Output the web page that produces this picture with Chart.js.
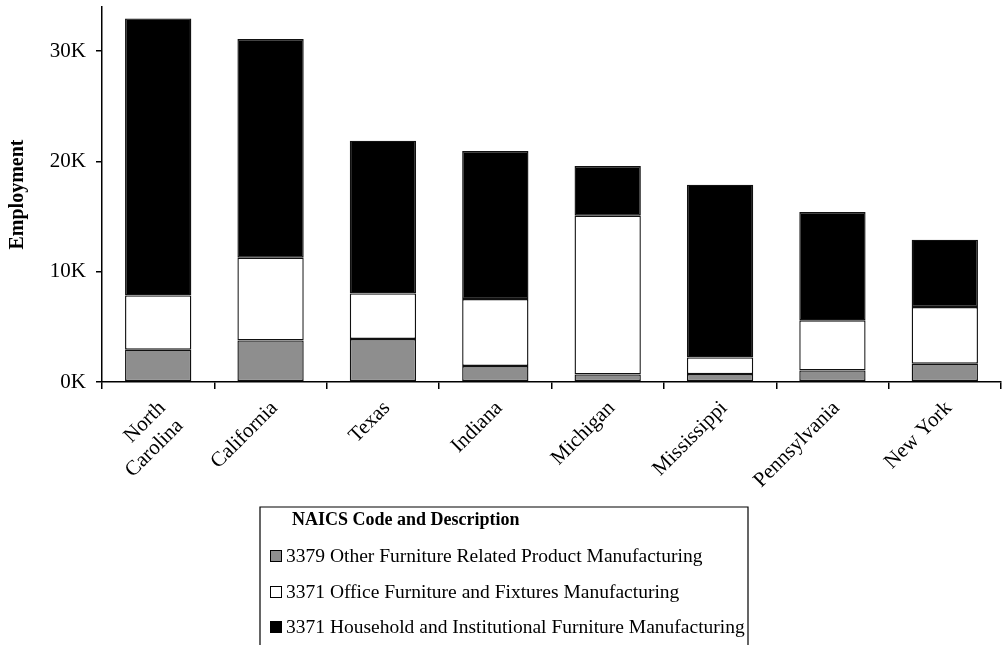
<!DOCTYPE html>
<html>
<head>
<meta charset="utf-8">
<script src="https://cdn.jsdelivr.net/npm/chart.js@4.4.1/dist/chart.umd.min.js"></script>
<style>
  html, body { margin: 0; padding: 0; background: #fff; }
  #wrap { position: relative; width: 1005px; height: 645px; }
</style>
</head>
<body>
<div id="wrap"><canvas id="c" width="1005" height="645"></canvas></div>
<script>
const states = [["North", "Carolina"], "California", "Texas", "Indiana", "Michigan", "Mississippi", "Pennsylvania", "New York"];
const otherFurniture = [2930, 3770, 3900, 1450, 690, 720, 1050, 1660];
const officeFurniture = [4920, 7500, 4130, 6070, 14390, 1510, 4540, 5140];
const householdFurniture = [25110, 19830, 13850, 13420, 4500, 15660, 9820, 6100];
const seriesNames = [
  "3379 Other Furniture Related Product Manufacturing",
  "3371 Office Furniture and Fixtures Manufacturing",
  "3371 Household and Institutional Furniture Manufacturing"
];
const legendTitle = "NAICS Code and Description";
const yTickValues = [0, 10000, 20000, 30000];
const yMax = 34000;

const FONT = "'Liberation Serif', 'Times New Roman', serif";

const boxLegend = {
  id: 'boxLegend',
  afterDraw(chart) {
    const ctx = chart.ctx;
    const L = 260, R = 748, T = 507;
    ctx.save();
    ctx.strokeStyle = '#000';
    ctx.lineWidth = 1.2;
    ctx.beginPath();
    ctx.moveTo(L, 660); ctx.lineTo(L, T); ctx.lineTo(R, T); ctx.lineTo(R, 660);
    ctx.stroke();
    ctx.fillStyle = '#000';
    ctx.textBaseline = 'middle';
    ctx.textAlign = 'left';
    ctx.font = "bold 18px " + FONT;
    ctx.fillText(legendTitle, 292, 520);
    ctx.font = "19.5px " + FONT;
    const ys = [556, 592, 627];
    chart.data.datasets.forEach((ds, i) => {
      const y = ys[i];
      ctx.fillStyle = ds.backgroundColor;
      ctx.fillRect(270, y - 6, 12, 12);
      ctx.strokeStyle = '#000';
      ctx.lineWidth = 1;
      ctx.strokeRect(270.5, y - 5.5, 11, 11);
      ctx.fillStyle = '#000';
      ctx.fillText(ds.label, 286, y + 1);
    });
    ctx.restore();
  }
};

new Chart(document.getElementById('c'), {
  type: 'bar',
  data: {
    labels: states,
    datasets: [
      { label: seriesNames[0], data: otherFurniture, backgroundColor: '#8e8e8e' },
      { label: seriesNames[1], data: officeFurniture, backgroundColor: '#ffffff' },
      { label: seriesNames[2], data: householdFurniture, backgroundColor: '#000000' }
    ]
  },
  options: {
    responsive: false,
    animation: false,
    devicePixelRatio: 1,
    layout: { padding: { top: 7, right: 4, left: 0, bottom: 0 } },
    datasets: {
      bar: {
        borderColor: '#111',
        borderWidth: 1.4,
        borderSkipped: false,
        barPercentage: 0.59,
        categoryPercentage: 1.0
      }
    },
    plugins: {
      legend: { display: false },
      tooltip: { enabled: false }
    },
    scales: {
      x: {
        stacked: true,
        afterFit(scale) { scale.height = 263; scale.paddingLeft = 0; scale.paddingRight = 0; },
        border: { display: true, color: '#000', width: 1.5 },
        grid: { display: true, drawOnChartArea: false, drawTicks: true, tickLength: 7, color: '#000', lineWidth: 1.5, offset: true },
        ticks: {
          color: '#000',
          font: { family: FONT, size: 21 },
          minRotation: 45,
          maxRotation: 45,
          padding: 7,
          labelOffset: 4,
          autoSkip: false
        }
      },
      y: {
        stacked: true,
        min: 0,
        max: yMax,
        afterFit(scale) { scale.width = 102; scale.paddingTop = 0; scale.paddingBottom = 0; },
        afterBuildTicks(scale) { scale.ticks = yTickValues.map(v => ({ value: v })); },
        border: { display: true, color: '#000', width: 1.5 },
        grid: { display: true, drawOnChartArea: false, drawTicks: true, tickLength: 6, color: '#000', lineWidth: 1.5 },
        ticks: {
          color: '#000',
          padding: 10,
          font: { family: FONT, size: 21 },
          callback: (v) => (v / 1000) + 'K'
        },
        title: {
          display: true,
          text: 'Employment',
          color: '#000',
          font: { family: FONT, size: 20, weight: 'bold' },
          padding: { top: 6, bottom: 0 }
        }
      }
    }
  },
  plugins: [boxLegend]
});
</script>
</body>
</html>
